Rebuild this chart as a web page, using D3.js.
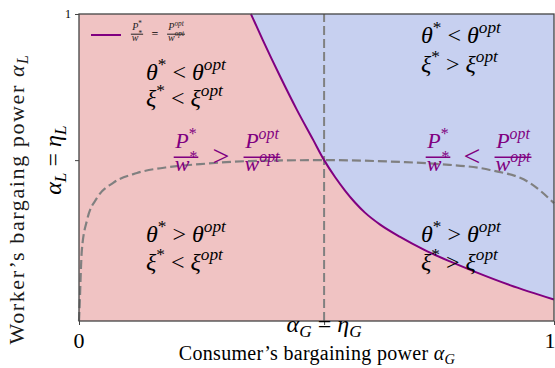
<!DOCTYPE html>
<html lang="en">
<head>
<meta charset="utf-8">
<script src="https://cdn.jsdelivr.net/npm/d3@7"></script>
<style>
  body { margin: 0; background: #fff; }
  svg text { font-family: "Liberation Serif", "DejaVu Serif", serif; }
</style>
</head>
<body>
<svg id="chart" width="555" height="368"></svg>
<script>
// values (alpha_G on x, alpha_L on y, both 0..1)
var etaG = 0.516;
var etaL = 0.524;

// boundary P*/w* = P^opt/w^opt
var boundaryG = [0.362, 0.387, 0.423, 0.459, 0.493, 0.516, 0.539, 0.560, 0.581, 0.602, 0.634, 0.676, 0.728, 0.781, 0.834, 0.907, 1.0];
var boundaryL = [1.000, 0.915, 0.798, 0.687, 0.590, 0.524, 0.469, 0.425, 0.386, 0.353, 0.314, 0.274, 0.231, 0.194, 0.160, 0.117, 0.070];

// dashed curve through (etaG, etaL)
var dashG = [0.0, 0.001, 0.006, 0.017, 0.038, 0.072, 0.122, 0.192, 0.255, 0.36, 0.516, 0.676, 0.76, 0.865, 0.949, 1.0];
var dashL = [0.0, 0.036, 0.231, 0.329, 0.401, 0.450, 0.482, 0.502, 0.511, 0.521, 0.524, 0.518, 0.511, 0.492, 0.450, 0.384];

var xTickVals = [0, etaG, 1];

var pink = "#f0c3c3", blue = "#c7d0f0", purple = "#800080", grey = "#808080";

var svg = d3.select("#chart");
var x = d3.scaleLinear().domain([0, 1]).range([79, 554]);
var y = d3.scaleLinear().domain([0, 1]).range([321, 14]);

var boundary = boundaryG.map(function(g, i) { return [g, boundaryL[i]]; });
var dashed = dashG.map(function(g, i) { return [g, dashL[i]]; });

// pink background region
svg.append("rect")
  .attr("x", x(0)).attr("y", y(1))
  .attr("width", x(1) - x(0)).attr("height", y(0) - y(1))
  .attr("fill", pink);

// blue region above the boundary
var area = d3.area()
  .curve(d3.curveMonotoneX)
  .x(function(d) { return x(d[0]); })
  .y0(function(d) { return y(d[1]); })
  .y1(y(1));
svg.append("path").attr("d", area(boundary)).attr("fill", blue);

// dashed lines
var line = d3.line()
  .curve(d3.curveMonotoneX)
  .x(function(d) { return x(d[0]); })
  .y(function(d) { return y(d[1]); });

svg.append("line")
  .attr("x1", x(etaG)).attr("x2", x(etaG))
  .attr("y1", y(0)).attr("y2", y(1))
  .attr("stroke", grey).attr("stroke-width", 2)
  .attr("stroke-dasharray", "9,4");

svg.append("path")
  .attr("d", line(dashed))
  .attr("fill", "none")
  .attr("stroke", grey).attr("stroke-width", 2.2)
  .attr("stroke-dasharray", "9,4");

svg.append("path")
  .attr("d", line(boundary))
  .attr("fill", "none")
  .attr("stroke", purple).attr("stroke-width", 2);

// frame
svg.append("rect")
  .attr("x", x(0)).attr("y", y(1))
  .attr("width", x(1) - x(0)).attr("height", y(0) - y(1))
  .attr("fill", "none").attr("stroke", "#444").attr("stroke-width", 1.3);

// ticks
var xAxis = d3.axisBottom(x).tickValues(xTickVals).tickSize(4).tickFormat("");
var gx = svg.append("g").attr("transform", "translate(0," + y(0) + ")").call(xAxis);
gx.select(".domain").remove();
gx.selectAll("line").attr("stroke", "#444");

var yAxis = d3.axisLeft(y).tickValues([etaL, 1]).tickSize(4).tickFormat("");
var gy = svg.append("g").attr("transform", "translate(" + x(0) + ",0)").call(yAxis);
gy.select(".domain").remove();
gy.selectAll("line").attr("stroke", "#444");

// math text helper: parts = [[text, style]] style: i italic, r roman, sup, sub
function mtext(sel, px, py, size, parts, anchor, color) {
  var t = sel.append("text")
    .attr("x", px).attr("y", py)
    .attr("font-size", size)
    .attr("text-anchor", anchor || "start")
    .attr("fill", color || "#000");
  var shift = 0;
  parts.forEach(function(p) {
    var s = t.append("tspan").text(p[0]);
    var st = p[1];
    var target = 0;
    if (st.indexOf("sup") >= 0) target = -size * 0.42;
    if (st.indexOf("sub") >= 0) target = size * 0.2;
    s.attr("dy", target - shift);
    shift = target;
    if (st.indexOf("sup") >= 0 || st.indexOf("sub") >= 0) s.attr("font-size", size * 0.72);
    if (st.indexOf("i") >= 0) s.attr("font-style", "italic");
  });
  return t;
}

// tick labels
svg.append("text").attr("x", x(0)).attr("y", 348).attr("text-anchor", "middle")
  .attr("font-family", "DejaVu Sans").attr("font-size", 22).text("0");
svg.append("text").attr("x", x(1) - 4).attr("y", 348).attr("text-anchor", "middle")
  .attr("font-family", "DejaVu Sans").attr("font-size", 22).text("1");
mtext(svg, x(etaG), 332, 24, [["α", "i"], ["G", "i sub"], [" = ", "r"], ["η", "i"], ["G", "i sub"]], "middle");

svg.append("text").attr("x", 71).attr("y", y(1) + 4).attr("text-anchor", "end")
  .attr("font-size", 12).text("1");

var gyl = svg.append("g").attr("transform", "translate(61," + y(etaL) + ") rotate(-90)");
mtext(gyl, 0, 0, 24, [["α", "i"], ["L", "i sub"], [" = ", "r"], ["η", "i"], ["L", "i sub"]], "middle");

// axis titles
mtext(svg, 317, 360, 20, [["Consumer\u2019s bargaining power ", "r"], ["α", "i"], ["G", "i sub"]], "middle")
  .attr("letter-spacing", 0.3);
var gyt = svg.append("g").attr("transform", "translate(24,199) rotate(-90)");
mtext(gyt, 0, 0, 22, [["Worker\u2019s bargaing power ", "r"], ["α", "i"], ["L", "i sub"]], "middle")
  .attr("letter-spacing", 1.6).attr("fill", "#1a1a1a");

// region annotations
function ineq(px, py, sym, op) {
  mtext(svg, px, py, 24, [[sym, "i"], ["*", "sup"], [" " + op + " ", "r"], [sym, "i"], ["opt", "i sup"]]);
}
ineq(146, 80, "θ", "<");
ineq(146, 106, "ξ", "<");
ineq(421, 43, "θ", "<");
ineq(421, 72, "ξ", ">");
ineq(146, 242, "θ", ">");
ineq(146, 270, "ξ", "<");
ineq(421, 242, "θ", ">");
ineq(421, 270, "ξ", ">");

// fractions
function frac(cx, ny, size, sup, color) {
  var st = sup === "*" ? "sup" : "i sup";
  var num = mtext(svg, cx, ny, size, [["P", "i"], [sup, st]], "middle", color);
  var den = mtext(svg, cx, ny + size * 1.05, size, [["w", "i"], [sup, st]], "middle", color);
  var w = Math.max(num.node().getComputedTextLength(), den.node().getComputedTextLength());
  svg.append("line")
    .attr("x1", cx - w / 2 - 1).attr("x2", cx + w / 2 + 1)
    .attr("y1", ny + size * 0.42).attr("y2", ny + size * 0.42)
    .attr("stroke", color).attr("stroke-width", Math.max(1, size / 14));
}
frac(186, 148, 22, "*", purple);
svg.append("text").attr("x", 221).attr("y", 166).attr("text-anchor", "middle")
  .attr("font-size", 30).attr("fill", purple).text(">");
frac(262, 148, 22, "opt", purple);

frac(438, 148, 22, "*", purple);
svg.append("text").attr("x", 472).attr("y", 166).attr("text-anchor", "middle")
  .attr("font-size", 30).attr("fill", purple).text("<");
frac(513, 148, 22, "opt", purple);

// legend
svg.append("line").attr("x1", 91).attr("x2", 121).attr("y1", 35).attr("y2", 35)
  .attr("stroke", purple).attr("stroke-width", 2);
frac(137, 30, 10, "*", "#222");
svg.append("text").attr("x", 155).attr("y", 38).attr("text-anchor", "middle")
  .attr("font-size", 12).text("=");
frac(176, 30, 10, "opt", "#222");
</script>
</body>
</html>
